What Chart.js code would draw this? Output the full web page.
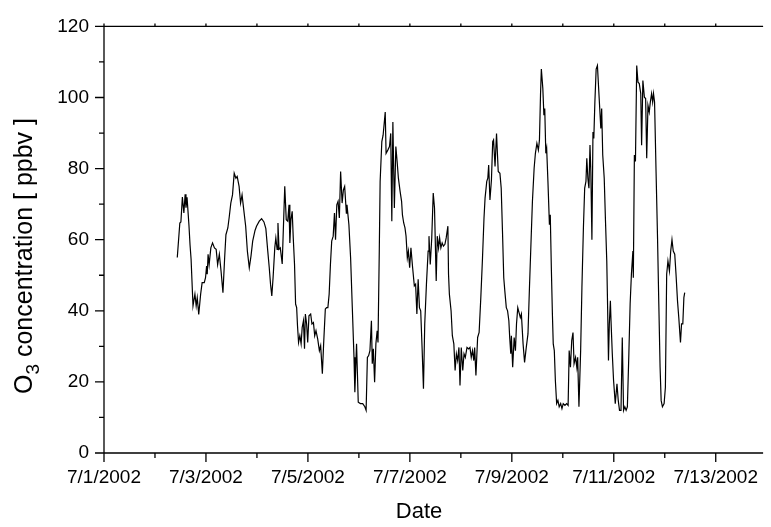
<!DOCTYPE html>
<html>
<head>
<meta charset="utf-8">
<script src="https://cdn.jsdelivr.net/npm/chart.js@4.4.1/dist/chart.umd.min.js"></script>
<style>
  html, body { margin: 0; padding: 0; background: #fff; }
  #wrap { width: 771px; height: 527px; position: relative; }
</style>
</head>
<body>
<div id="wrap"><canvas id="o3Chart"></canvas></div>
<script>
// ── datos: horas desde 7/1/2002 00:00 y O3 en ppbv ──
const hours = [
  34.5,35.7,36.2,36.9,37.6,38.2,38.6,39.1,40.0,40.5,41.0,41.9,42.8,43.4,43.9,44.6,45.5,46.2,47.2,47.8,
  48.3,48.6,49.0,49.5,50.3,51.1,52.0,52.8,53.5,54.3,55.1,56.0,56.8,57.4,58.3,59.0,59.7,60.5,61.3,62.1,
  62.7,63.6,64.3,65.0,65.8,66.7,67.5,68.4,69.2,70.0,
  71.1,71.8,73.1,74.2,75.3,76.2,77.1,77.8,78.4,79.0,79.6,80.4,80.9,81.5,81.9,82.4,83.0,83.9,85.1,85.8,
  86.5,87.1,87.5,88.0,88.6,89.1,89.7,90.2,90.7,91.1,91.6,92.2,92.8,93.3,93.9,94.4,94.8,95.4,95.9,96.5,
  97.3,97.9,98.6,99.2,99.8,100.6,101.4,102.0,102.8,103.4,104.2,104.8,105.4,106.0,106.6,107.2,107.9,108.5,109.0,109.6,
  110.2,110.8,111.4,112.1,112.7,113.3,
  114.1,114.4,115.3,116.1,116.9,117.7,118.1,118.9,119.7,120.7,121.8,122.8,123.4,124.0,124.6,125.2,125.9,126.3,126.8,127.4,
  128.0,128.6,129.0,129.6,130.0,130.8,131.4,132.4,132.8,133.6,134.4,135.0,135.5,136.0,136.7,137.4,138.0,138.6,139.4,140.1,
  140.5,141.1,141.7,142.2,142.8,143.3,143.9,144.5,145.3,146.1,146.7,147.3,147.9,148.5,149.1,149.8,150.4,151.0,151.8,152.6,
  153.0,153.6,154.3,155.0,155.6,156.4,
  156.9,157.5,158.0,158.6,159.2,159.8,160.5,161.1,161.9,162.2,162.6,163.4,164.0,164.7,165.3,165.9,166.5,167.1,167.6,168.2,
  168.9,169.5,170.1,170.9,171.7,172.3,172.9,173.5,174.1,174.5,175.1,175.9,176.6,177.4,178.2,178.9,179.4,180.2,180.7,181.1,
  181.7,182.4,183.0,183.4,184.1,184.8,185.6,186.4,187.0,187.6,188.2,188.7,189.4,190.0,190.6,191.0,191.5,191.8,192.4,193.1,
  193.7,194.2,194.8,195.4,196.0,196.5,197.3,198.0,
  198.8,199.6,200.3,201.1,201.7,202.5,203.1,203.8,204.5,205.0,205.5,205.9,206.6,207.1,207.5,208.0,208.4,209.0,209.7,210.1,
  210.6,211.1,211.5,212.0,212.5,213.1,213.7,214.3,215.0,215.6,216.2,217.0,217.8,218.5,219.0,219.6,220.2,220.8,221.3,222.0,
  222.6,223.0,223.6,224.4,225.0,225.7,226.3,226.9,227.3,227.8,228.3,228.8,229.2,229.7,230.2,230.6,231.1,231.7,232.3,232.8,
  233.3,233.9,234.3,234.8,235.5,236.1,236.7,237.1,237.5,
  237.9,238.4,238.7,239.3,239.9,240.7,241.5,242.1,242.7,243.4,244.0,244.6,245.2,245.8,246.4,247.1,247.7,248.3,249.0,249.2,
  249.7,250.2,250.8,251.4,252.0,252.7,253.1,253.7,254.4,255.0,255.5,256.1,256.7,257.2,257.8,258.3,258.7,259.2,259.9,260.6,
  261.2,261.8,262.3,262.9,263.7,264.3,264.9,265.5,266.2,266.8,267.4,268.0,268.7,269.3,270.0,270.6,271.4,271.9,272.5,273.0,
  273.4
];
const o3 = [
  55,64.7,65,72,67.5,72.8,69,71.9,64,58.6,54.5,41.4,44.7,41.4,43.7,39,44.7,47.9,47.9,49.3,
  52.6,50.3,55.9,53,57.7,59.1,57.7,57.3,53,55.9,51.2,45.1,54.9,61.4,63.3,66.6,70.3,72.6,78.7,77.3,
  77.8,75,70.3,72.6,68.4,63.8,56.8,52.1,55.4,59.6,
  62.6,63.8,65.2,65.9,65,63.1,56.8,52.1,47.5,44.2,49.3,57.7,60.5,57.3,64.7,57.3,57.7,53.2,75,65.6,
  65.2,69.8,59.1,65.6,68,60.5,53,41.9,40.9,35.8,31.1,33,30.7,35.3,37.2,29.3,39.1,36.3,31.1,38.6,
  39.1,36.3,36.7,33,34.4,32.1,28.8,30.2,22.3,30.7,40.5,40.9,40.9,44.7,53,59.6,61,67.5,60,69.8,
  70.8,66.1,79.2,70.3,74,75,
  67.5,69.8,64.2,54.9,40.9,26.9,17.1,30.7,14.3,13.9,13.9,13,12,26.9,27.4,28.8,37.2,25.1,29.3,19.9,
  30.7,34.4,31.1,56.8,76.4,87.6,89.4,95.9,84.3,85.2,86.2,89.9,65.2,93.1,68.9,86.2,82,77.3,73.6,70.8,
  67,64.7,63.3,61,54.9,56.8,52.1,57.7,52.1,47,47.5,39.1,48.9,40.9,40,28.8,18.1,36.3,47.5,56.8,
  61,53,60.5,73.1,68.9,48.4,
  61,57.7,60.5,57.7,59.1,58.2,58.7,60.5,63.8,50.3,44.7,40,33,30.7,23.2,27.9,26,29.7,19,29.7,
  23.2,27.9,26.9,29.7,29.3,29.7,26.9,28.8,26,29.7,21.8,32.5,33.9,43.7,54.9,66.1,71.7,76.4,77.3,81,
  71.2,76.8,87.6,88.1,80.6,89.9,79.2,78.7,74.5,62.4,49.3,45.6,40.9,40,37.2,32.5,27.9,33,24.1,32.5,
  28.8,36.3,40.9,39.5,38.1,39.1,30.7,25.5,
  29.7,33.5,46.5,60.5,70.8,80.1,84.3,87.1,85.2,88,100.6,108,102.5,95,96.9,84.3,85.7,76.4,64.2,67,
  52.1,39.1,30.7,28.8,20.4,13.9,14.8,13,13.9,12.5,13.9,13.4,13.9,13.4,28.8,24.1,31.6,33.9,25.1,26.9,
  24.1,26.9,13,28.8,46.5,63.3,74.5,76.4,82.9,77.3,74.5,86.6,79.2,60,90.3,88.5,98.7,108,109,103.4,
  97.8,91.3,96.9,83.8,77.3,65.2,54,40.9,26,
  36.3,42.8,37.2,27.9,20.4,13.9,19.5,14.8,12,12,32.5,12,13,12,13,27.9,41.9,50.3,56.8,49.3,
  83.8,82,109,104.3,103.9,101.1,86.6,104.8,100.1,99.7,82.9,97.8,95.9,98.7,101.1,98.7,101.1,98.7,79.2,60.5,
  41.9,24.1,14.8,13,13.9,18.5,50.3,54,51.2,56.8,60,56.8,55.9,50.3,42.8,38.1,31.1,36.3,36.3,43.7,
  45.1
];
// ejes
const xTickHours = [0,24,48,72,96,120,144,168,192,216,240,264,288];
const yTicks = [0,20,40,60,80,100,120];
const yMinor = [10,30,50,70,90,110];
const X_MAX = 310.3;
const FONT = "'Liberation Sans', Arial, sans-serif";

function dateLabel(h) {
    if (h % 48 !== 0) return '';
    return '7/' + (1 + h / 24) + '/2002';
}

// ── ticks, marco y títulos ──
const frame = {
    id: 'frame',
    afterDraw(chart) {
        const { ctx, chartArea: a, scales: { x, y } } = chart;
        ctx.save();
        ctx.strokeStyle = '#000';
        ctx.lineWidth = 1.3;
        ctx.beginPath();
        ctx.moveTo(a.left, a.top); ctx.lineTo(a.right, a.top);
        ctx.moveTo(a.left, a.top); ctx.lineTo(a.left, a.bottom);
        ctx.moveTo(a.left, a.bottom); ctx.lineTo(a.right, a.bottom);
        yTicks.forEach(v => { const p = y.getPixelForValue(v); ctx.moveTo(a.left - 9, p); ctx.lineTo(a.left, p); });
        yMinor.forEach(v => { const p = y.getPixelForValue(v); ctx.moveTo(a.left - 5, p); ctx.lineTo(a.left, p); });
        xTickHours.forEach(h => {
            const p = x.getPixelForValue(h);
            const len = h % 48 === 0 ? 9 : 5;
            ctx.moveTo(p, a.bottom); ctx.lineTo(p, a.bottom + len);
            ctx.moveTo(p, a.top); ctx.lineTo(p, a.top - 3);
        });
        ctx.stroke();

        // título eje X
        ctx.fillStyle = '#000';
        ctx.font = '22px ' + FONT;
        ctx.textAlign = 'center';
        ctx.textBaseline = 'alphabetic';
        ctx.fillText('Date', 419, 518);

        // título eje Y con subíndice
        const big = '25px ' + FONT, small = '19px ' + FONT;
        ctx.font = big;
        const wO = ctx.measureText('O').width;
        const rest = ' concentration [ ppbv ]';
        const wR = ctx.measureText(rest).width;
        ctx.font = small;
        const w3 = ctx.measureText('3').width;
        const total = wO + w3 + wR;
        ctx.translate(32, 256);
        ctx.rotate(-Math.PI / 2);
        ctx.textAlign = 'left';
        let cx = -total / 2;
        ctx.font = big; ctx.fillText('O', cx, 0); cx += wO;
        ctx.font = small; ctx.fillText('3', cx, 7); cx += w3;
        ctx.font = big; ctx.fillText(rest, cx, 0);
        ctx.restore();
    }
};

new Chart(document.getElementById('o3Chart'), {
    type: 'line',
    data: {
        datasets: [{
            data: hours.map((h, i) => ({ x: h, y: o3[i] })),
            borderColor: '#000',
            borderWidth: 1.2,
            pointRadius: 0,
            tension: 0,
            fill: false
        }]
    },
    options: {
        responsive: true,
        maintainAspectRatio: false,
        animation: false,
        events: [],
        layout: { padding: { top: 24, right: 0, left: 0, bottom: 0 } },
        plugins: { legend: { display: false }, tooltip: { enabled: false } },
        scales: {
            x: {
                type: 'linear',
                min: 0,
                max: X_MAX,
                afterBuildTicks: s => { s.ticks = xTickHours.map(v => ({ value: v })); },
                afterFit: s => { s.height = 74; },
                grid: { display: false, drawTicks: false },
                border: { display: false },
                ticks: {
                    autoSkip: false, maxRotation: 0, padding: 13,
                    color: '#000', font: { family: FONT, size: 19 },
                    callback: v => dateLabel(v)
                }
            },
            y: {
                min: 0,
                max: 120,
                afterBuildTicks: s => { s.ticks = yTicks.map(v => ({ value: v })); },
                afterFit: s => { s.width = 104; },
                grid: { display: false, drawTicks: false },
                border: { display: false },
                ticks: {
                    padding: 15,
                    color: '#000', font: { family: FONT, size: 19 }
                }
            }
        }
    },
    plugins: [frame]
});
</script>
</body>
</html>
